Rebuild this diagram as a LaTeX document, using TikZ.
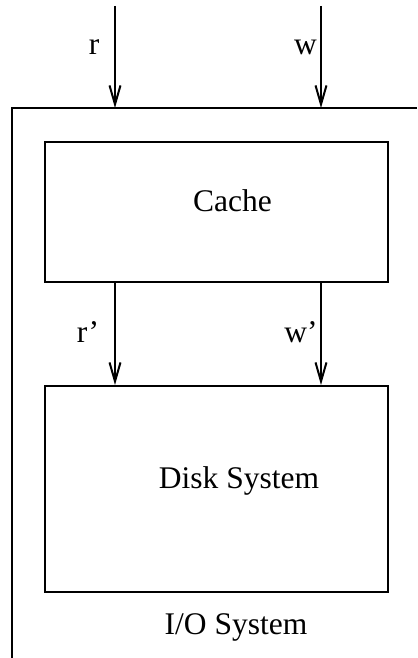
\documentclass[tikz,border=0pt]{standalone}
\usepackage{fontspec}
\setmainfont{Liberation Serif}
\usetikzlibrary{arrows.meta, positioning}

\begin{document}
\begin{tikzpicture}[
		x=1bp, y=-1bp,
		font=\fontsize{31.5bp}{36bp}\selectfont,
		line width=2bp,
		% Style for the two inner boxes
		unit/.style={draw, rectangle, minimum width=343bp, inner sep=0pt},
		% Connector style
		arrow/.style={-{Straight Barb[length=19bp, width=11bp]}},
		term label/.style={anchor=base}
		]
		\useasboundingbox (0,0) rectangle (417,658);
		
		% --- 1. The I/O System frame ---
		\coordinate (io) at (12,108);
		\draw (12,658) -- (io) -- (417,108);
		\node[term label] (iolabel) at (236,634) {I/O System};
		
		% --- 2. Cache and disk ---
		\node[unit, minimum height=139bp] (cache) at (216.5,212) {};
		\node[term label] (cachelabel) at (232.5,211) {Cache};
		\node[unit, minimum height=206bp] (disk) at (216.5,489) {};
		\node[term label] (disklabel) at (239,488) {Disk System};
		
		% --- 3. Requests coming in ---
		\coordinate (rin) at (115,6);
		\coordinate (win) at (321,6);
		\draw[arrow] (rin) -- (rin |- io);
		\draw[arrow] (win) -- (win |- io);
		\node[term label] (r) at (94,55) {r};
		\node[term label] (w) at (305.5,55) {w};
		
		% --- 4. Requests passed on to the disk ---
		\draw[arrow] (rin |- cache.south) -- (rin |- disk.north);
		\draw[arrow] (win |- cache.south) -- (win |- disk.north);
		\node[term label] (r2) at (88,342) {r'};
		\node[term label] (w2) at (301,342) {w'};
		
	\end{tikzpicture}
\end{document}
